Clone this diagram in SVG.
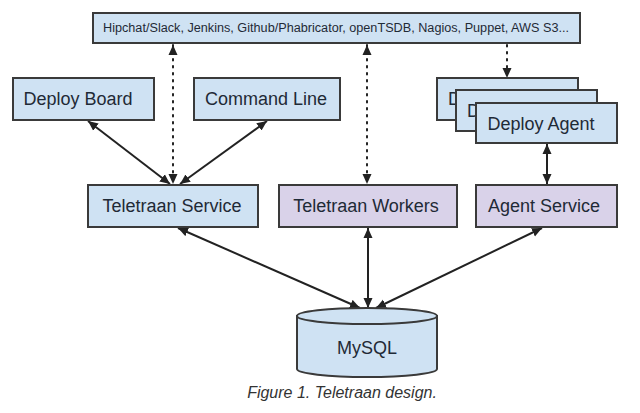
<svg xmlns="http://www.w3.org/2000/svg" width="640" height="413" viewBox="0 0 640 413">
<defs>
<style>
.box{stroke:#3a3a3a;stroke-width:2}
.blue{fill:#cfe2f3}
.purple{fill:#d9d2e9}
.lbl{font-family:"Liberation Sans",Arial,sans-serif;font-size:18px;fill:#1f2a36;text-anchor:middle}
.lft{font-family:"Liberation Sans",Arial,sans-serif;font-size:18px;fill:#1f2a36}
.small{font-family:"Liberation Sans",Arial,sans-serif;font-size:12px;fill:#1f2a36;text-anchor:middle}
.cap{font-family:"Liberation Sans",Arial,sans-serif;font-size:16px;font-style:italic;fill:#333;text-anchor:middle}
.solid{stroke:#222;stroke-width:2;fill:none}
.dot{stroke:#222;stroke-width:2;fill:none;stroke-dasharray:1.5 5.5;stroke-linecap:round}
</style>
<marker id="ah" viewBox="0 0 10 10" refX="10" refY="5" markerWidth="10" markerHeight="10" markerUnits="userSpaceOnUse" orient="auto-start-reverse">
<path d="M0,0.5 L10,5 L0,9.5 Z" fill="#222"/>
</marker>
</defs>
<rect width="640" height="413" fill="#ffffff"/>

<g id="connectors">
<line class="solid" x1="88" y1="121" x2="170" y2="184" marker-start="url(#ah)" marker-end="url(#ah)"/>
<line class="solid" x1="267" y1="121" x2="180" y2="184" marker-start="url(#ah)" marker-end="url(#ah)"/>
<line class="dot" x1="173" y1="45" x2="173" y2="184" marker-start="url(#ah)" marker-end="url(#ah)"/>
<line class="dot" x1="367" y1="45" x2="367" y2="184" marker-start="url(#ah)" marker-end="url(#ah)"/>
<line class="dot" x1="507" y1="45" x2="507" y2="78" marker-end="url(#ah)"/>
<line class="solid" x1="547" y1="144" x2="547" y2="184" marker-start="url(#ah)" marker-end="url(#ah)"/>
<line class="solid" x1="178" y1="228" x2="360" y2="308" marker-start="url(#ah)" marker-end="url(#ah)"/>
<line class="solid" x1="368" y1="228" x2="368" y2="308" marker-start="url(#ah)" marker-end="url(#ah)"/>
<line class="solid" x1="542" y1="228" x2="376" y2="308" marker-start="url(#ah)" marker-end="url(#ah)"/>
</g>

<g id="integrations">
<rect class="box blue" x="93" y="13" width="487" height="30"/>
<text class="small" x="336" y="32" textLength="466" lengthAdjust="spacingAndGlyphs">Hipchat/Slack, Jenkins, Github/Phabricator, openTSDB, Nagios, Puppet, AWS S3...</text>
</g>

<g id="deploy-board">
<rect class="box blue" x="13" y="78" width="141" height="42"/>
<text class="lbl" x="78" y="105">Deploy Board</text>
</g>

<g id="command-line">
<rect class="box blue" x="194" y="78" width="146" height="42"/>
<text class="lbl" x="266" y="105">Command Line</text>
</g>

<g id="deploy-agent">
<rect class="box blue" x="437" y="78" width="141" height="42"/>
<text class="lft" x="448" y="105">D</text>
<rect class="box blue" x="456" y="90" width="141" height="41"/>
<text class="lft" x="467" y="117">D</text>
<rect class="box blue" x="476" y="103" width="141" height="40"/>
<text class="lbl" x="541" y="130">Deploy Agent</text>
</g>

<g id="teletraan-service">
<rect class="box blue" x="88" y="185" width="170" height="42"/>
<text class="lbl" x="172" y="212">Teletraan Service</text>
</g>

<g id="teletraan-workers">
<rect class="box purple" x="279" y="185" width="178" height="42"/>
<text class="lbl" x="366" y="212">Teletraan Workers</text>
</g>

<g id="agent-service">
<rect class="box purple" x="476" y="185" width="141" height="42"/>
<text class="lbl" x="544" y="212">Agent Service</text>
</g>

<g id="mysql">
<path class="box blue" d="M297,316 L297,369 A70,8 0 0 0 437,369 L437,316 Z"/>
<ellipse class="box blue" cx="367" cy="316" rx="70" ry="8"/>
<text class="lbl" x="367" y="354">MySQL</text>
</g>

<text class="cap" x="342" y="398">Figure 1. Teletraan design.</text>
</svg>
